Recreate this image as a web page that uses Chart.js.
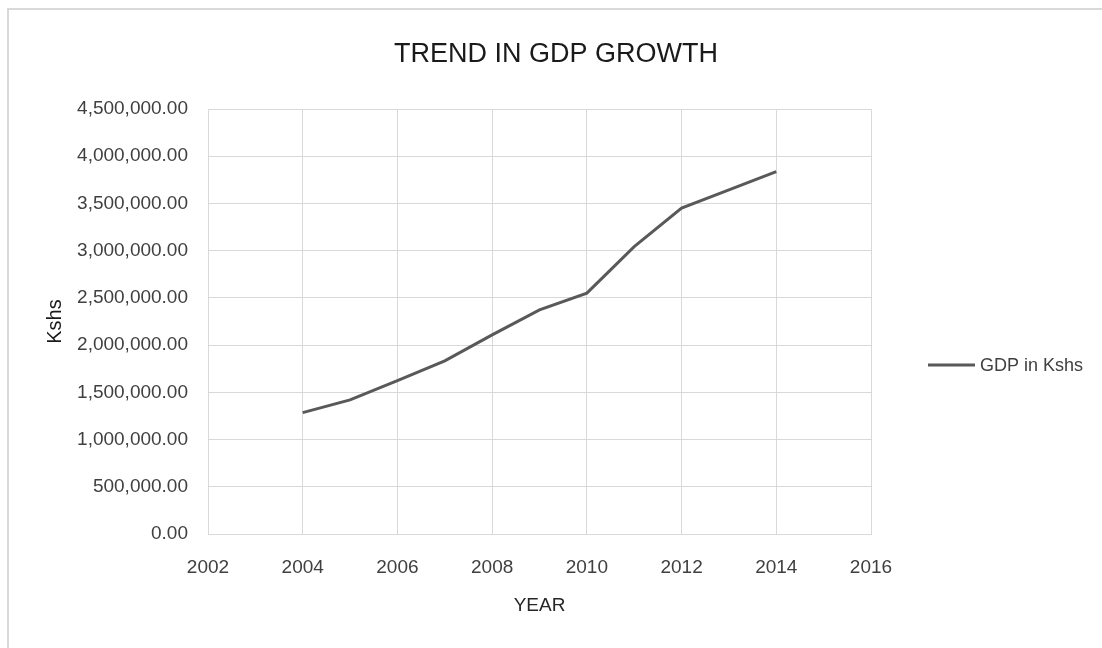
<!DOCTYPE html>
<html>
<head>
<meta charset="utf-8">
<script src="https://cdn.jsdelivr.net/npm/chart.js@4.4.1/dist/chart.umd.min.js"></script>
<style>
  html, body { margin: 0; padding: 0; background: #ffffff; }
  #wrap { position: relative; width: 1102px; height: 648px; overflow: hidden; }
  #frame { position: absolute; left: 7px; top: 8px; width: 1200px; height: 800px; border: 2px solid #d9d9d9; box-sizing: border-box; }
  #c { position: absolute; left: 0; top: 0; }
</style>
</head>
<body>
<div id="wrap">
  <div id="frame"></div>
  <canvas id="c" width="1102" height="648"></canvas>
</div>
<script>
// ---- data ----
const chartTitle = "TREND IN GDP GROWTH";
const xAxisTitle = "YEAR";
const yAxisTitle = "Kshs";
const seriesName = "GDP in Kshs";
const years = [2004, 2005, 2006, 2007, 2008, 2009, 2010, 2011, 2012, 2013, 2014];
const gdp = [1285000, 1420000, 1625000, 1833000, 2109000, 2373000, 2550000, 3043000, 3450000, 3643000, 3837000];
const xTickRange = [2002, 2016, 2];          // min, max, step
const yTickRange = [0, 4500000, 500000];     // min, max, step

const FONT = "'Liberation Sans', Arial, sans-serif";
const lineColor = '#595959';

// Title centred across the whole chart frame, and the side legend.
const decorPlugin = {
  id: 'decor',
  afterDraw(chart) {
    const ctx = chart.ctx;
    const ds = chart.data.datasets[0];
    ctx.save();
    // title
    ctx.fillStyle = '#1a1a1a';
    ctx.font = "27px " + FONT;
    ctx.textAlign = 'center';
    ctx.textBaseline = 'middle';
    ctx.fillText(chartTitle, 556, 55);
    // legend
    const y = 365;
    ctx.strokeStyle = ds.borderColor;
    ctx.lineWidth = ds.borderWidth;
    ctx.beginPath();
    ctx.moveTo(928, y);
    ctx.lineTo(975, y);
    ctx.stroke();
    ctx.fillStyle = '#404040';
    ctx.font = "18px " + FONT;
    ctx.textAlign = 'left';
    ctx.fillText(ds.label, 980, y + 1);
    ctx.restore();
  }
};

new Chart(document.getElementById('c'), {
  type: 'line',
  data: {
    datasets: [{
      label: seriesName,
      data: years.map((yr, i) => ({ x: yr, y: gdp[i] })),
      borderColor: lineColor,
      backgroundColor: lineColor,
      borderWidth: 3,
      pointRadius: 0,
      tension: 0,
      fill: false
    }]
  },
  options: {
    responsive: false,
    animation: false,
    layout: { padding: { left: 0, top: 109, right: 231, bottom: 0 } },
    plugins: {
      legend: { display: false },
      tooltip: { enabled: false },
      title: { display: false }
    },
    scales: {
      x: {
        type: 'linear',
        min: xTickRange[0],
        max: xTickRange[1],
        afterFit: (s) => { s.height = 114; },
        ticks: {
          stepSize: xTickRange[2],
          color: '#404040',
          font: { family: FONT, size: 19 },
          padding: 22,
          callback: (v) => String(v)
        },
        grid: { color: '#d9d9d9', lineWidth: 1, drawTicks: false },
        border: { color: '#d9d9d9', width: 1 },
        title: {
          display: true,
          text: xAxisTitle,
          color: '#262626',
          font: { family: FONT, size: 19 },
          padding: { top: 0, bottom: 31 }
        }
      },
      y: {
        min: yTickRange[0],
        max: yTickRange[1],
        afterFit: (s) => { s.width = 208; },
        ticks: {
          stepSize: yTickRange[2],
          color: '#404040',
          font: { family: FONT, size: 19 },
          padding: 20,
          callback: (v) => Number(v).toLocaleString('en-US', { minimumFractionDigits: 2, maximumFractionDigits: 2 })
        },
        grid: { color: '#d9d9d9', lineWidth: 1, drawTicks: false },
        border: { color: '#d9d9d9', width: 1 },
        title: {
          display: true,
          text: yAxisTitle,
          color: '#1a1a1a',
          font: { family: FONT, size: 20 },
          padding: { top: 43, bottom: 0 }
        }
      }
    }
  },
  plugins: [decorPlugin]
});
</script>
</body>
</html>
